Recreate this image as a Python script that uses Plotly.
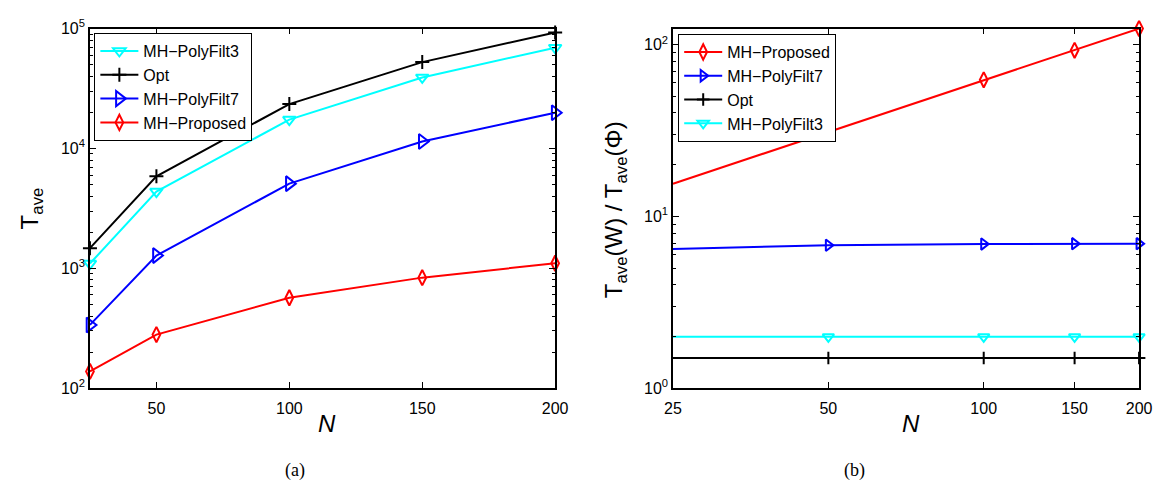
import plotly.graph_objects as go
import math

# ---------------- data ----------------
N_values = [25, 50, 100, 150, 200]

# (a) T_ave
left_polyfilt3 = [1096, 4365, 17400, 39100, 69200]
left_opt = [1472, 5861, 23450, 52500, 92900]
left_polyfilt7 = [337, 1277, 5086, 11440, 19870]
left_proposed = [138, 280, 568, 836, 1102]

# (b) T_ave(W) / T_ave(Phi)
right_proposed = [15.5, 31.0, 62.4, 92.7, 124.0]
right_polyfilt7 = [6.47, 6.79, 6.90, 6.94, 6.94]
right_opt = [1.50, 1.50, 1.50, 1.50, 1.50]
right_polyfilt3 = [1.99, 1.99, 1.99, 1.99, 1.99]

left_x_ticks = [50, 100, 150, 200]
right_x_ticks = [25, 50, 100, 150, 200]
left_y_tickvals = [100, 1000, 10000, 100000]
left_y_ticktext = ["10<sup>2</sup>", "10<sup>3</sup>", "10<sup>4</sup>", "10<sup>5</sup>"]
right_y_tickvals = [1, 10, 100]
right_y_ticktext = ["10<sup>0</sup>", "10<sup>1</sup>", "10<sup>2</sup>"]

# ---------------- styles ----------------
W, H = 1172, 503
FONT = "Liberation Sans, Arial, sans-serif"
CYAN, BLACK, BLUE, RED = "#00FFFF", "#000000", "#0000FF", "#FF0000"

L_x0, L_x1 = 82.5 / W, 556.6 / W
R_x0, R_x1 = 676.7 / W, 1151.7 / W
Y0, Y1 = 1 - 392.8 / H, 1 - 18.3 / H

fig = go.Figure()


def add(x, y, name, color, symbol, size, xa, ya, legend):
    fig.add_trace(go.Scatter(
        x=x, y=y, name=name, mode="lines+markers",
        line=dict(color=color, width=2),
        marker=dict(symbol=symbol, size=size, color=color,
                    line=dict(color=color, width=2)),
        xaxis=xa, yaxis=ya, legend=legend, cliponaxis=False,
    ))


# left subplot (legend order)
add(N_values, left_polyfilt3, "MH\u2212PolyFilt3", CYAN, "triangle-down-open", 11, "x", "y", "legend")
add(N_values, left_opt, "Opt", BLACK, "cross-thin-open", 10, "x", "y", "legend")
add(N_values, left_polyfilt7, "MH\u2212PolyFilt7", BLUE, "triangle-right-open", 13, "x", "y", "legend")
add(N_values, left_proposed, "MH\u2212Proposed", RED, "diamond-tall-open", 11, "x", "y", "legend")

# right subplot (legend order)
add(N_values, right_proposed, "MH\u2212Proposed", RED, "diamond-tall-open", 11, "x2", "y2", "legend2")
add(N_values, right_polyfilt7, "MH\u2212PolyFilt7", BLUE, "triangle-right-open", 10, "x2", "y2", "legend2")
add(N_values, right_opt, "Opt", BLACK, "cross-thin-open", 9, "x2", "y2", "legend2")
add(N_values, right_polyfilt3, "MH\u2212PolyFilt3", CYAN, "triangle-down-open", 10, "x2", "y2", "legend2")

axis_common = dict(
    showline=True, linecolor="black", linewidth=1.5, mirror="ticks",
    ticks="inside", ticklen=6, tickcolor="black", tickwidth=1,
    showgrid=False, zeroline=False,
    tickfont=dict(family=FONT, size=16, color="black"),
)

legend_common = dict(
    bgcolor="white", bordercolor="black", borderwidth=1,
    font=dict(family=FONT, size=16, color="black"),
    xanchor="left", yanchor="top", itemwidth=38,
    tracegroupgap=0,
)

fig.update_layout(
    width=W, height=H,
    margin=dict(l=0, r=0, t=0, b=0),
    paper_bgcolor="white", plot_bgcolor="white",
    showlegend=True,
    xaxis=dict(domain=[L_x0, L_x1], range=[25, 200], tickvals=left_x_ticks,
               ticklabelstandoff=5, anchor="y", **axis_common),
    yaxis=dict(domain=[Y0, Y1], type="log", range=[2, 5],
               tickvals=left_y_tickvals, ticktext=left_y_ticktext,
               minor=dict(ticks="inside", ticklen=3, tickcolor="black", dtick="D1"),
               anchor="x", **axis_common),
    xaxis2=dict(domain=[R_x0, R_x1], type="log",
                range=[math.log10(25), math.log10(200)],
                tickvals=right_x_ticks, ticktext=[str(v) for v in right_x_ticks],
                ticklabelstandoff=5, anchor="y2", **axis_common),
    yaxis2=dict(domain=[Y0, Y1], type="log", range=[0, math.log10(124.0)],
                tickvals=right_y_tickvals, ticktext=right_y_ticktext,
                minor=dict(ticks="inside", ticklen=3, tickcolor="black", dtick="D1"),
                anchor="x2", **axis_common),
    legend=dict(x=87 / W, y=1 - 23 / H, **legend_common),
    legend2=dict(x=682 / W, y=1 - 24 / H, **legend_common),
)

ann_font = dict(family=FONT, size=24, color="black")
annotations = [
    dict(text="T<sub>ave</sub>", x=23 / W, y=1 - 206 / H, textangle=-90),
    dict(text="T<sub>ave</sub>(W) / T<sub>ave</sub>(\u03a6)", x=618 / W, y=1 - 207 / H, textangle=-90),
    dict(text="<i>N</i>", x=324 / W, y=1 - 430 / H, textangle=0),
    dict(text="<i>N</i>", x=919 / W, y=1 - 430 / H, textangle=0),
]
for a in annotations:
    fig.add_annotation(xref="paper", yref="paper", showarrow=False,
                       xanchor="center", yanchor="middle", font=ann_font, **a)

cap_font = dict(family="Liberation Serif, Times New Roman, serif", size=18, color="black")
fig.add_annotation(text="(a)", x=279.3 / W, y=1 - 491.5 / H, xref="paper", yref="paper",
                   showarrow=False, font=cap_font)
fig.add_annotation(text="(b)", x=874.3 / W, y=1 - 491.5 / H, xref="paper", yref="paper",
                   showarrow=False, font=cap_font)

fig.write_html(
    "out.html",
    config={"displayModeBar": False},
    post_script="document.body.style.margin='0';document.body.style.overflow='hidden';",
)
